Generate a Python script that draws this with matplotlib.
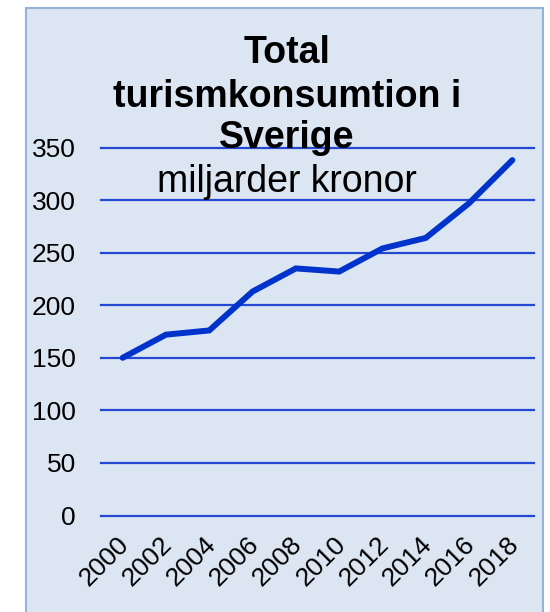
import matplotlib
matplotlib.use("Agg")
import matplotlib.pyplot as plt
from matplotlib.patches import Rectangle
from matplotlib.transforms import ScaledTranslation

years = ["2000", "2002", "2004", "2006", "2008", "2010", "2012", "2014", "2016", "2018"]
values = [150, 172, 176, 213, 235, 232, 254, 264, 297, 338]
yticks = [0, 50, 100, 150, 200, 250, 300, 350]
title_lines = ["Total", "turismkonsumtion i", "Sverige"]
subtitle = "miljarder kronor"

plt.rcParams['font.family'] = ['Liberation Sans', 'DejaVu Sans']

W, H = 550, 612
fig = plt.figure(figsize=(W / 100, H / 100), dpi=100)
fig.patch.set_facecolor('white')

# panel background
panel = Rectangle((25.5 / W, -0.01), (543 - 25.5) / W, (H - 7.5) / H + 0.01,
                  transform=fig.transFigure, facecolor='#DCE6F2',
                  edgecolor='#95B3D7', linewidth=1.5, zorder=-5)
fig.patches.append(panel)

left, right = 101 / W, 534 / W
bottom, top = 1 - 515.5 / H, 1 - 147.5 / H
ax = fig.add_axes([left, bottom, right - left, top - bottom])
ax.set_zorder(2)
ax.set_facecolor('none')
for s in ax.spines.values():
    s.set_visible(False)

x = list(range(len(years)))
ax.plot(x, values, color='#0033CC', linewidth=4.3, solid_capstyle='round',
        solid_joinstyle='miter', zorder=3)
ax.set_xlim(-0.5, len(years) - 0.5)
ax.set_ylim(0, 350)
ax.set_yticks(yticks)
ax.set_yticklabels([str(v) for v in yticks], fontsize=19)
ax.set_xticks(x)
ax.set_xticklabels(years, fontsize=19, rotation=45, ha='right',
                   rotation_mode='anchor')
ax.tick_params(axis='both', length=0)
ax.tick_params(axis='y', pad=18)
ax.tick_params(axis='x', pad=12)
offset = ScaledTranslation(-6 / 100, 0, fig.dpi_scale_trans)
for lab in ax.get_xticklabels():
    lab.set_transform(lab.get_transform() + offset)
for v in yticks:
    ax.axhline(v, color='#2448D4', linewidth=1.6, zorder=1, clip_on=False)

for line, yb in zip(title_lines, [63.3, 106.7, 148]):
    fig.text(287 / W, 1 - yb / H, line, ha='center', va='baseline',
             fontsize=27, fontweight='bold', zorder=10)
fig.text(287 / W, 1 - 191.5 / H, subtitle, ha='center',
         va='baseline', fontsize=27, zorder=10)

fig.savefig('out.png', dpi=100, facecolor='white')
